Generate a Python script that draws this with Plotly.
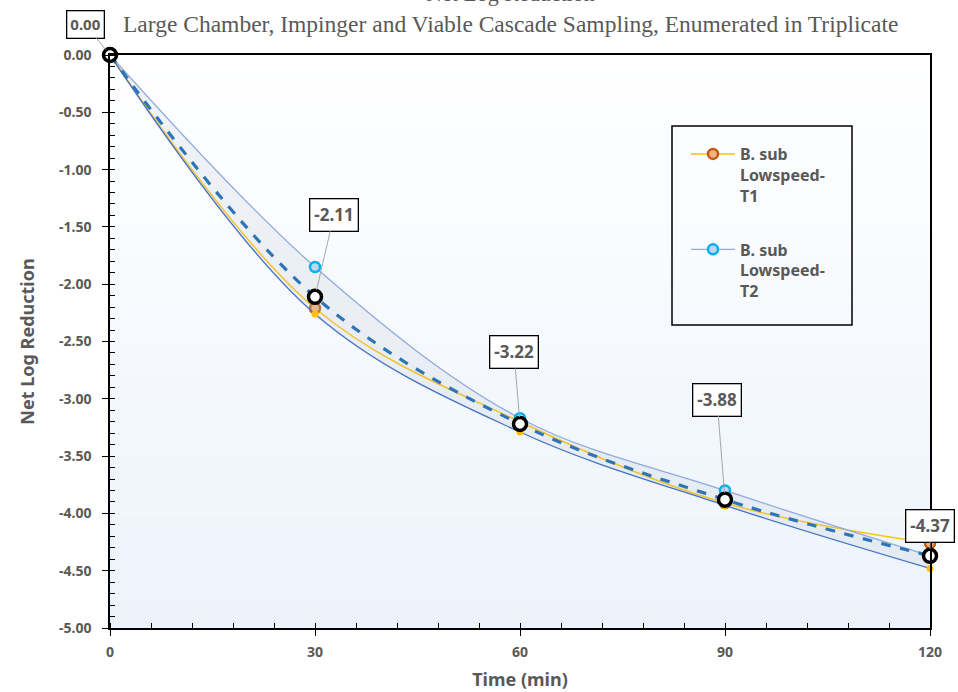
import plotly.graph_objects as go

# Sampling times (min)
time_min = [0, 30, 60, 90, 120]

# Net log reduction per trial
t1_values = [0.00, -2.21, -3.20, -3.91, -4.26]
t2_values = [0.00, -1.85, -3.17, -3.80, -4.37]
t3_values = [0.00, -2.26, -3.29, -3.93, -4.48]

# Mean of the three trials (labelled on the chart)
mean_values = [0.00, -2.11, -3.22, -3.88, -4.37]

series_names = ["B. sub<br>Lowspeed-<br>T1", "B. sub<br>Lowspeed-<br>T2", "B. sub<br>Lowspeed-<br>T3"]

# Y tick labels use a plain hyphen for negatives
y_tick_values = [0.0, -0.5, -1.0, -1.5, -2.0, -2.5, -3.0, -3.5, -4.0, -4.5, -5.0]
y_tick_labels = ["0.00", "-0.50", "-1.00", "-1.50", "-2.00", "-2.50", "-3.00", "-3.50", "-4.00", "-4.50", "-5.00"]

chart_title = "Net Log Reduction"
chart_subtitle = "Large Chamber, Impinger and Viable Cascade Sampling, Enumerated in Triplicate"
x_title = "Time (min)"
y_title = "Net Log Reduction"

GRAY = "#595959"
TICK_FONT = dict(family="Noto Sans", size=14, color=GRAY, weight="bold")

fig = go.Figure()

# T1: yellow line with orange markers
fig.add_trace(go.Scatter(
    x=time_min, y=t1_values, name=series_names[0], mode="lines+markers",
    line=dict(color="#ffc000", width=1.5, shape="spline", smoothing=1),
    marker=dict(size=10, color="#f4b183", line=dict(color="#c55a11", width=2.5)),
    legendgroup="t1", cliponaxis=False,
))
# T2: light upper line
fig.add_trace(go.Scatter(
    x=time_min, y=t2_values, name=series_names[1], mode="lines+markers",
    line=dict(color="#8faadc", width=1.3, shape="spline", smoothing=1),
    marker=dict(size=10, color="#bdd7ee", line=dict(color="#00b0f0", width=2.5)),
    legendgroup="t2", cliponaxis=False,
))
# T3: lower line, shaded band up to T2
fig.add_trace(go.Scatter(
    x=time_min, y=t3_values, name=series_names[2], mode="lines+markers",
    line=dict(color="#4472c4", width=1.3, shape="spline", smoothing=1),
    marker=dict(size=7, color="#ffc000"),
    fill="tonexty", fillcolor="rgba(190,200,215,0.22)",
    showlegend=False, legendgroup="t3", cliponaxis=False,
))
# Mean: dashed line, white markers with black outline
fig.add_trace(go.Scatter(
    x=time_min, y=mean_values, name="Mean", mode="lines+markers",
    line=dict(color="#2e75b6", width=3.2, dash="dash", shape="spline", smoothing=1),
    marker=dict(size=13, color="white", line=dict(color="black", width=3.5)),
    showlegend=False, legendgroup="mean", cliponaxis=False,
))

# Mean value labels with leader lines (pixel offsets of each box)
label_offsets = [(-25, -31), (19, -82), (-6, -72), (-8, -100), (0, -30)]
for t, v, (dx, dy) in zip(time_min, mean_values, label_offsets):
    first = t == time_min[0]
    fig.add_annotation(
        x=t, y=v, text=f"{v:.2f}", showarrow=True, arrowhead=0,
        arrowcolor="#a6a6a6", arrowwidth=1, standoff=7,
        ax=dx, ay=dy,
        font=dict(family="Noto Sans", size=15 if first else 17, color=GRAY, weight="bold"),
        bgcolor="white", bordercolor="black", borderwidth=1.3,
        borderpad=3 if first else 4,
    )

# Title lines
fig.add_annotation(
    xref="paper", yref="paper", x=0.488, y=(628 - 8) / 573, yanchor="bottom",
    text=chart_title, showarrow=False,
    font=dict(family="Liberation Serif", size=22, color=GRAY),
)
fig.add_annotation(
    xref="paper", yref="paper", x=0.488, y=(628 - 24) / 573, yanchor="middle",
    text=chart_subtitle, showarrow=False,
    font=dict(family="Liberation Serif", size=23.5, color=GRAY),
)

# Soft vertical gradient in the plot area
shapes = []
n_strips = 40
top_rgb = (255, 255, 255)
bot_rgb = (236, 243, 251)
for i in range(n_strips):
    f = (i + 0.5) / n_strips
    r, g, b = [round(a + (c - a) * f) for a, c in zip(top_rgb, bot_rgb)]
    shapes.append(dict(
        type="rect", xref="x domain", yref="y domain",
        x0=0, x1=1, y0=1 - (i + 1) / n_strips, y1=1 - i / n_strips,
        fillcolor=f"rgb({r},{g},{b})", line=dict(width=0), layer="below",
    ))
# Legend frame
shapes.append(dict(
    type="rect", xref="paper", yref="paper",
    x0=(672 - 110) / 820, x1=(852 - 110) / 820,
    y0=(628 - 325) / 573, y1=(628 - 126) / 573,
    line=dict(color="black", width=1.5), fillcolor="rgba(0,0,0,0)", layer="above",
))

fig.update_layout(
    width=958, height=692,
    margin=dict(l=110, r=28, t=55, b=64),
    paper_bgcolor="white", plot_bgcolor="white",
    shapes=shapes,
    showlegend=True,
    legend=dict(
        x=(686 - 110) / 820, y=(628 - 137) / 573, xanchor="left", yanchor="top",
        bgcolor="rgba(0,0,0,0)", borderwidth=0, traceorder="grouped",
        font=dict(family="Noto Sans", size=16, color=GRAY, weight="bold"),
        valign="top", tracegroupgap=30, itemwidth=44,
    ),
    xaxis=dict(
        range=[0, 120], dtick=30, tick0=0, automargin=False,
        showgrid=False, zeroline=False,
        showline=True, linecolor="black", linewidth=1.5, mirror=True,
        ticks="outside", ticklen=6, tickcolor="black", tickwidth=1.2,
        minor=dict(dtick=6, ticks="inside", ticklen=5, tickcolor="black", tickwidth=1.2, showgrid=False),
        tickfont=TICK_FONT, ticklabelstandoff=4,
        title=dict(text=x_title, font=dict(family="Noto Sans", size=18, color=GRAY, weight="bold"), standoff=14),
    ),
    yaxis=dict(
        range=[-5, 0], tickvals=y_tick_values, ticktext=y_tick_labels, automargin=False,
        showgrid=False, zeroline=False,
        showline=True, linecolor="black", linewidth=1.5, mirror=True,
        ticks="outside", ticklen=6, tickcolor="black", tickwidth=1.2,
        minor=dict(dtick=0.1, ticks="inside", ticklen=5, tickcolor="black", tickwidth=1.2, showgrid=False),
        tickfont=TICK_FONT, ticklabelstandoff=8,
        title=dict(text=y_title, font=dict(family="Noto Sans", size=18, color=GRAY, weight="bold"), standoff=20),
    ),
)

fig.write_html("out.html")
